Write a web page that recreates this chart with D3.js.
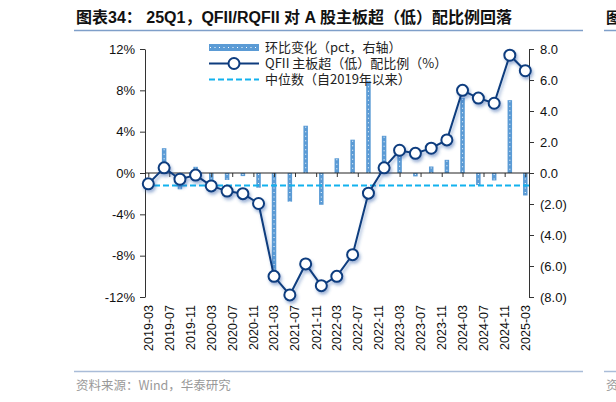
<!DOCTYPE html>
<html>
<head>
<meta charset="utf-8">
<script src="https://cdn.jsdelivr.net/npm/d3@7"></script>
<style>
  body { margin: 0; background: #fff; }
  svg { display: block; }
</style>
</head>
<body>
<div id="box"></div>
<script>
// data
const quarters = ['2019-03','2019-06','2019-09','2019-12','2020-03','2020-06','2020-09','2020-12',
  '2021-03','2021-06','2021-09','2021-12','2022-03','2022-06','2022-09','2022-12',
  '2023-03','2023-06','2023-09','2023-12','2024-03','2024-06','2024-09','2024-12','2025-03'];
// QFII main board over(under)weight ratio, % (left axis)
const ratio = [-1.05, 0.5, -0.6, -0.2, -1.25, -1.75, -2.0, -2.95,
  -10.0, -11.8, -8.8, -10.9, -10.0, -7.9, -1.95, 0.5,
  2.2, 1.9, 2.4, 3.2, 8.0, 7.25, 6.75, 11.4, 9.9];
// quarter-on-quarter change, pct (right axis)
const qoq = [null, 1.6, -1.05, 0.4, -1.0, -0.45, -0.2, -0.95,
  -6.9, -1.85, 3.05, -2.05, 0.95, 2.15, 5.95, 2.4,
  1.7, -0.22, 0.42, 0.85, 4.85, -0.78, -0.48, 4.7, -1.45];
const median = -1.2;
const leftTicks = [12, 8, 4, 0, -4, -8, -12];
const rightTicks = [8, 6, 4, 2, 0, -2, -4, -6, -8];
const xTickLabels = ['2019-03','2019-07','2019-11','2020-03','2020-07','2020-11','2021-03',
  '2021-07','2021-11','2022-03','2022-07','2022-11','2023-03','2023-07','2023-11',
  '2024-03','2024-07','2024-11','2025-03'];
const legendLabels = ['环比变化（pct，右轴）', 'QFII 主板超（低）配比例（%）', '中位数（自2019年以来）'];

const width = 616, height = 402;
const plotLeft = 145, plotRight = 529, plotTop = 49, plotBottom = 297;

const navy = '#0e3c7e';
const barBlue = '#5b9bd5';
const cyan = '#12b2ee';
const latin = '"Liberation Sans", Arial, "Noto Sans CJK SC", sans-serif';
const cjk = '"Noto Sans CJK SC", "Liberation Sans", sans-serif';

const parse = d3.timeParse('%Y-%m');

const svg = d3.select('#box').append('svg')
  .attr('width', width)
  .attr('height', height)
  .attr('viewBox', `0 0 ${width} ${height}`);

// soft shadow under the line + markers
const defs = svg.append('defs');
defs.append('filter')
  .attr('id', 'shadow')
  .attr('x', '-20%').attr('y', '-20%').attr('width', '140%').attr('height', '140%')
  .append('feDropShadow')
  .attr('dx', 1.5).attr('dy', 2.5)
  .attr('stdDeviation', 1.8)
  .attr('flood-color', '#2a5aa8')
  .attr('flood-opacity', 0.45);

// title
svg.append('text')
  .attr('x', 76).attr('y', 23)
  .style('font-family', latin)
  .style('font-weight', 'bold')
  .style('font-size', '16px')
  .style('fill', '#111')
  .text('图表34： 25Q1，QFII/RQFII 对 A 股主板超（低）配比例回落');

svg.append('line')
  .attr('x1', 74).attr('x2', 583).attr('y1', 30.5).attr('y2', 30.5)
  .style('stroke', '#7f9fc9').style('stroke-width', 1.5);

// neighbouring panel fragments at right edge
svg.append('text')
  .attr('x', 606).attr('y', 23)
  .style('font-family', cjk).style('font-weight', 'bold').style('font-size', '15px')
  .style('fill', '#111')
  .text('图');
svg.append('line')
  .attr('x1', 604).attr('x2', 616).attr('y1', 30.5).attr('y2', 30.5)
  .style('stroke', '#7f9fc9').style('stroke-width', 1.5);
svg.append('line')
  .attr('x1', 604).attr('x2', 616).attr('y1', 371.5).attr('y2', 371.5)
  .style('stroke', '#a9bcd8').style('stroke-width', 1.5);
svg.append('text')
  .attr('x', 606).attr('y', 390)
  .style('font-family', cjk).style('font-size', '12.5px').style('fill', '#999')
  .text('资');

// source footer
svg.append('line')
  .attr('x1', 74).attr('x2', 583).attr('y1', 371.5).attr('y2', 371.5)
  .style('stroke', '#a9bcd8').style('stroke-width', 1.5);
svg.append('text')
  .attr('x', 76).attr('y', 390)
  .style('font-family', cjk)
  .style('font-size', '12.5px')
  .style('fill', '#999')
  .text('资料来源：Wind，华泰研究');

// scales
const x = d3.scaleTime()
  .domain([parse(quarters[0]), parse(quarters[quarters.length - 1])])
  .range([148.3, 525.3]);
const yL = d3.scaleLinear().domain([-12, 12]).range([plotBottom, plotTop]);
const yR = d3.scaleLinear().domain([-8, 8]).range([plotBottom, plotTop]);

const y0 = yL(0);
const barW = 4.5;

// bars (right axis)
const barData = quarters.map((q, i) => ({ date: parse(q), v: qoq[i] })).filter(d => d.v !== null);

const bars = svg.append('g').attr('class', 'bars');
bars.selectAll('rect').data(barData)
  .join('rect')
  .attr('x', d => x(d.date) - barW / 2)
  .attr('y', d => Math.min(yR(d.v), yR(0)))
  .attr('width', barW)
  .attr('height', d => Math.abs(yR(d.v) - yR(0)))
  .style('fill', barBlue);

// white dotted texture down the middle of each bar
bars.selectAll('line').data(barData)
  .join('line')
  .attr('x1', d => x(d.date))
  .attr('x2', d => x(d.date))
  .attr('y1', d => Math.min(yR(d.v), yR(0)) + 1)
  .attr('y2', d => Math.max(yR(d.v), yR(0)))
  .style('stroke', '#fff')
  .style('stroke-width', 1.1)
  .style('stroke-dasharray', '1 3.5')
  .style('opacity', 0.9);

// median dashed line
svg.append('line')
  .attr('x1', plotLeft).attr('x2', plotRight)
  .attr('y1', yL(median)).attr('y2', yL(median))
  .style('stroke', cyan)
  .style('stroke-width', 2)
  .style('stroke-dasharray', '6 3');

// left / right axes
const fmtRight = d => d < 0 ? `(${(-d).toFixed(1)})` : d.toFixed(1);

const gL = svg.append('g')
  .attr('transform', `translate(${plotLeft},0)`)
  .call(d3.axisLeft(yL).tickValues(leftTicks).tickSize(5).tickSizeOuter(0).tickFormat(d => d + '%'));

const gR = svg.append('g')
  .attr('transform', `translate(${plotRight},0)`)
  .call(d3.axisRight(yR).tickValues(rightTicks).tickSize(5).tickSizeOuter(0).tickFormat(fmtRight));

[gL, gR].forEach(g => {
  g.select('.domain').style('stroke', '#333');
  g.selectAll('.tick line').style('stroke', '#333');
  g.selectAll('.tick text')
    .style('font-family', latin)
    .style('font-size', '13px')
    .style('fill', '#111');
});
gL.selectAll('.tick text').attr('x', -10);
gR.selectAll('.tick text').attr('x', 11);

// category axis along zero with ticks every 4 months
const tickDates = xTickLabels.map(parse);
const gX = svg.append('g')
  .attr('transform', `translate(0,${y0})`)
  .call(d3.axisBottom(x).tickValues(tickDates).tickSize(4).tickFormat(''));
gX.select('.domain').remove();
gX.selectAll('.tick line').style('stroke', '#333');
svg.append('line')
  .attr('x1', plotLeft).attr('x2', plotRight)
  .attr('y1', y0).attr('y2', y0)
  .style('stroke', '#222').style('stroke-width', 1);

// rotated date labels at the bottom
svg.append('g').selectAll('text').data(tickDates)
  .join('text')
  .attr('transform', d => `translate(${x(d)},305) rotate(-90)`)
  .attr('text-anchor', 'end')
  .attr('dy', '0.35em')
  .style('font-family', latin)
  .style('font-size', '12.5px')
  .style('fill', '#111')
  .text((d, i) => xTickLabels[i]);

// ratio line + markers
const lineData = quarters.map((q, i) => ({ date: parse(q), v: ratio[i] }));
const gLine = svg.append('g').attr('filter', 'url(#shadow)');
gLine.append('path')
  .datum(lineData)
  .attr('d', d3.line().x(d => x(d.date)).y(d => yL(d.v)))
  .style('fill', 'none')
  .style('stroke', navy)
  .style('stroke-width', 2);
gLine.selectAll('circle').data(lineData)
  .join('circle')
  .attr('cx', d => x(d.date))
  .attr('cy', d => yL(d.v))
  .attr('r', 5.5)
  .style('fill', '#fff')
  .style('stroke', navy)
  .style('stroke-width', 2);

// legend
const lg = svg.append('g').attr('class', 'legend');
const lx = 209, lw = 50;
const rows = [47.5, 63.5, 79.5];

lg.append('rect')
  .attr('x', lx).attr('y', rows[0] - 3.5).attr('width', lw).attr('height', 7)
  .style('fill', barBlue);
lg.append('line')
  .attr('x1', lx + 1).attr('x2', lx + lw).attr('y1', rows[0]).attr('y2', rows[0])
  .style('stroke', '#fff').style('stroke-width', 1.1).style('stroke-dasharray', '1 3.5');

lg.append('line')
  .attr('x1', lx).attr('x2', lx + lw).attr('y1', rows[1]).attr('y2', rows[1])
  .style('stroke', navy).style('stroke-width', 2);
lg.append('circle')
  .attr('cx', lx + lw / 2).attr('cy', rows[1]).attr('r', 5.5)
  .style('fill', '#fff').style('stroke', navy).style('stroke-width', 2);

lg.append('line')
  .attr('x1', lx).attr('x2', lx + lw).attr('y1', rows[2]).attr('y2', rows[2])
  .style('stroke', cyan).style('stroke-width', 2).style('stroke-dasharray', '6 3');

lg.selectAll('text').data(legendLabels)
  .join('text')
  .attr('x', 265)
  .attr('y', (d, i) => rows[i])
  .attr('dy', '0.35em')
  .style('font-family', cjk)
  .style('font-size', '13px')
  .style('fill', '#222')
  .text(d => d);
</script>
</body>
</html>
